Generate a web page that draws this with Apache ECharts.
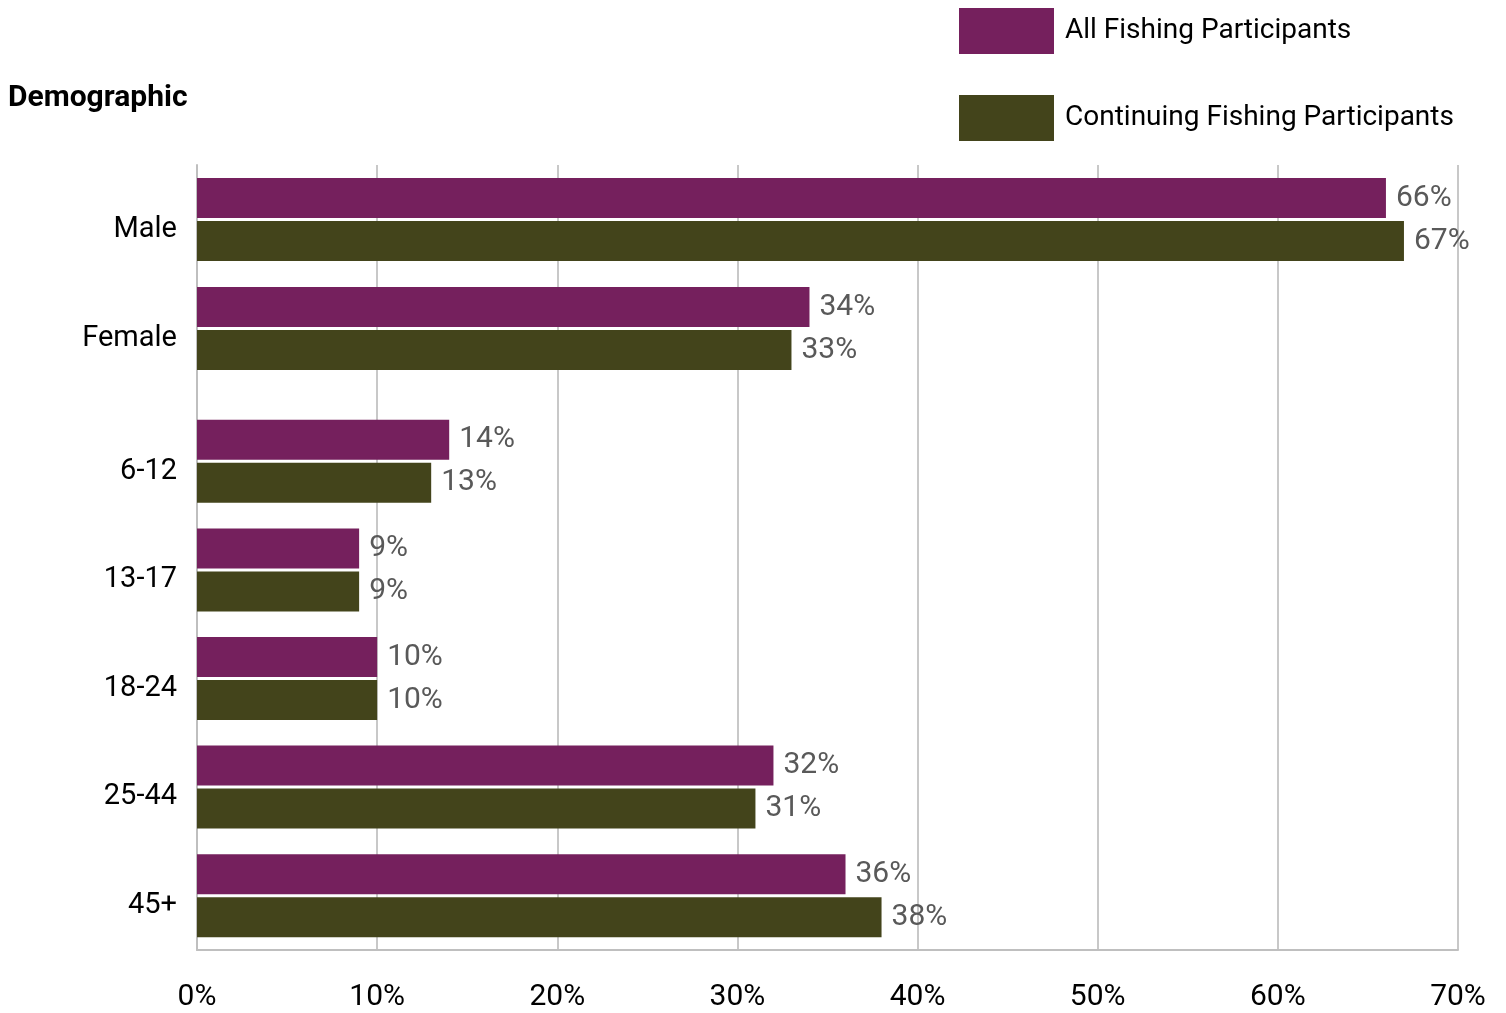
<!DOCTYPE html>
<html>
<head>
<meta charset="utf-8">
<script src="https://cdn.jsdelivr.net/npm/echarts@6/dist/echarts.min.js"></script>
<style>
  html, body { margin: 0; padding: 0; background: #fff; }
  #container { width: 1506px; height: 1013px; }
</style>
</head>
<body>
<div id="container"></div>
<script>
const genderCats = ["Male", "Female"];
const ageCats = ["6-12", "13-17", "18-24", "25-44", "45+"];
const allGender = [66, 34];
const contGender = [67, 33];
const allAge = [14, 9, 10, 32, 36];
const contAge = [13, 9, 10, 31, 38];
const xTicks = [0, 10, 20, 30, 40, 50, 60, 70];

const FONT = "Roboto, 'DejaVu Sans Condensed', sans-serif";
const PURPLE = "#75205d";
const OLIVE = "#43441b";

const dom = document.getElementById("container");
const myChart = echarts.init(dom, null, { renderer: "canvas" });

// x axes of the two bar grids, same scale as the visible one
const hiddenX = (i) => ({
  type: "value",
  gridIndex: i,
  min: xTicks[0],
  max: xTicks[xTicks.length - 1],
  interval: 10,
  show: false,
  splitLine: { show: false },
});

const catY = (i, data) => ({
  type: "category",
  gridIndex: i,
  data: data,
  inverse: true,
  axisLine: { show: false },
  axisTick: { show: false },
  axisLabel: {
    color: "#000",
    fontSize: 29,
    fontFamily: FONT,
    margin: 20,
    verticalAlign: "top",
    lineHeight: 20,
  },
});

const barLabel = {
  show: true,
  position: "right",
  distance: 10,
  formatter: "{c}%",
  color: "#595959",
  fontSize: 30,
  fontFamily: FONT,
};

const barSeries = (name, color, xi, data) => ({
  name: name,
  type: "bar",
  xAxisIndex: xi,
  yAxisIndex: xi,
  data: data,
  barWidth: 40,
  barGap: "7.5%",
  itemStyle: { color: color },
  label: barLabel,
  silent: true,
});

const option = {
  animation: false,
  title: {
    text: "Demographic",
    left: 8,
    top: 83,
    padding: 0,
    textStyle: { fontSize: 30, fontWeight: "bold", fontFamily: FONT, color: "#000" },
  },
  legend: {
    orient: "vertical",
    left: 959,
    top: 8,
    padding: 0,
    itemWidth: 95,
    itemHeight: 46,
    itemGap: 41,
    icon: "rect",
    itemStyle: { borderWidth: 0 },
    textStyle: {
      fontSize: 28,
      fontFamily: FONT,
      color: "#000",
      padding: [0, 0, 0, 6],
    },
    data: ["All Fishing Participants", "Continuing Fishing Participants"],
  },
  grid: [
    { left: 197, right: 48, top: 165, height: 785 },
    { left: 197, right: 48, top: 165, height: 218 },
    { left: 197, right: 48, top: 407, height: 543 },
  ],
  xAxis: [
    {
      type: "value",
      gridIndex: 0,
      min: xTicks[0],
      max: xTicks[xTicks.length - 1],
      interval: 10,
      axisLine: { show: true, lineStyle: { color: "#bfbfbf", width: 2 } },
      axisTick: { show: false },
      splitLine: { show: true, lineStyle: { color: "#c8c8c8", width: 2 } },
      axisLabel: {
        formatter: "{value}%",
        color: "#000",
        fontSize: 30,
        fontFamily: FONT,
        margin: 32,
      },
    },
    hiddenX(1),
    hiddenX(2),
  ],
  yAxis: [
    {
      type: "category",
      gridIndex: 0,
      data: [""],
      axisLine: { show: true, lineStyle: { color: "#bfbfbf", width: 2 } },
      axisTick: { show: false },
      axisLabel: { show: false },
    },
    catY(1, genderCats),
    catY(2, ageCats),
  ],
  series: [
    barSeries("All Fishing Participants", PURPLE, 1, allGender),
    barSeries("Continuing Fishing Participants", OLIVE, 1, contGender),
    barSeries("All Fishing Participants", PURPLE, 2, allAge),
    barSeries("Continuing Fishing Participants", OLIVE, 2, contAge),
  ],
};

myChart.setOption(option);
window.addEventListener("resize", myChart.resize);
</script>
</body>
</html>
